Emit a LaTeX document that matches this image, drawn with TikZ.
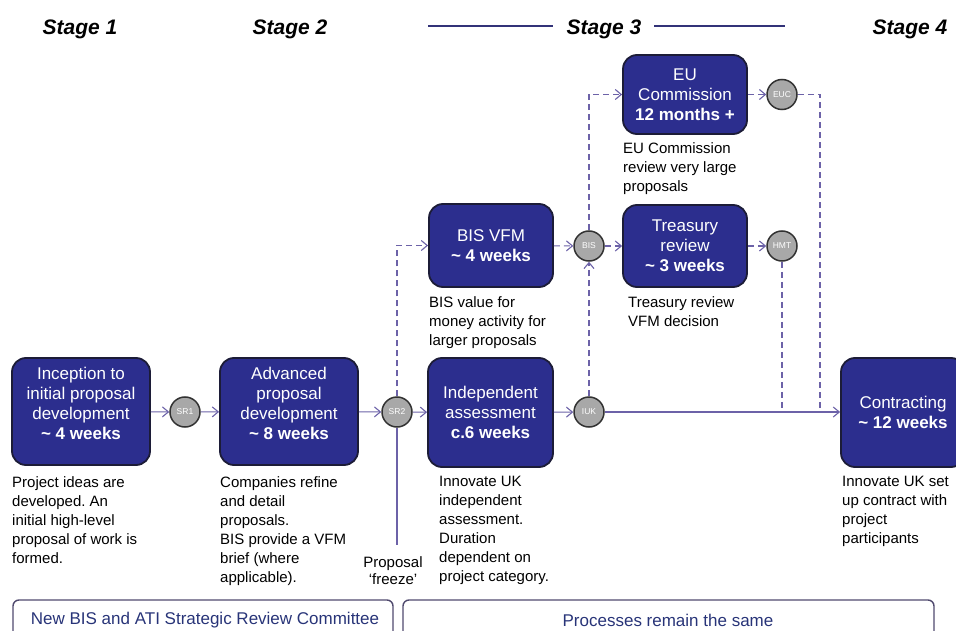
\documentclass[tikz,border=0pt]{standalone}
\usepackage{fontspec}
\setmainfont{Liberation Sans}
\usetikzlibrary{arrows.meta,calc}
\definecolor{boxfill}{RGB}{44,46,142}
\definecolor{boxborder}{RGB}{28,28,55}
\definecolor{gatefill}{RGB}{168,168,168}
\definecolor{gateborder}{RGB}{50,50,50}
\definecolor{flowcol}{RGB}{108,98,168}
\definecolor{stagecol}{RGB}{50,50,120}
\definecolor{bottext}{RGB}{40,52,120}
\definecolor{botborder}{RGB}{80,74,110}
\begin{document}
\frenchspacing
\begin{tikzpicture}[x=1pt,y=-1pt,
  every node/.style={font=\fontsize{15}{19}\selectfont},
  procbox/.style={draw=boxborder, line width=1.8pt, fill=boxfill, rounded corners=14pt,
    text=white, align=center, font=\fontsize{17}{20}\selectfont, inner sep=0pt},
  gate/.style={circle, draw=gateborder, line width=1.5pt, fill=gatefill, minimum size=30pt,
    inner sep=0pt, text=white, font=\fontsize{8.5}{9}\selectfont},
  flow/.style={draw=flowcol, line width=1.1pt, -{Straight Barb[length=6pt,width=10pt]}},
  dflow/.style={flow, dash pattern=on 6pt off 4pt},
  dline/.style={draw=flowcol, line width=1.1pt, dash pattern=on 6pt off 4pt},
  desc/.style={anchor=north west, align=left, inner sep=0pt},
  stagelbl/.style={font=\fontsize{21}{24}\selectfont\bfseries\itshape},
  stageline/.style={draw=stagecol, line width=1.2pt},
  botbox/.style={draw=botborder, line width=1.4pt, rounded corners=6pt, inner sep=0pt},
  botlbl/.style={text=bottext, font=\fontsize{17}{20}\selectfont},
]
\useasboundingbox (0,0) rectangle (956,631);

% stage headers
\node[stagelbl] (s1) at (80,29) {Stage 1};
\node[stagelbl] (s2) at (290,29) {Stage 2};
\node[stagelbl] (s3) at (604,29) {Stage 3};
\node[stagelbl] (s4) at (910,29) {Stage 4};
\coordinate (s3a) at (428,26);
\coordinate (s3b) at (553,26);
\coordinate (s3c) at (654,26);
\coordinate (s3d) at (785,26);
\draw[stageline] (s3a) -- (s3b);
\draw[stageline] (s3c) -- (s3d);

% process boxes
\node[procbox, minimum width=138pt, minimum height=107pt] (inc) at (81,411.5) {};
\node[text=white, align=center, font=\fontsize{17}{20}\selectfont] (inct) at (81,403)
  {Inception to\\initial proposal\\development\\\textbf{\char`\~\ 4 weeks}};
\node[procbox, minimum width=138pt, minimum height=107pt] (adv) at (289,411.5) {};
\node[text=white, align=center, font=\fontsize{17}{20}\selectfont] (advt) at (289,403)
  {Advanced\\proposal\\development\\\textbf{\char`\~\ 8 weeks}};
\node[procbox, minimum width=125pt, minimum height=109pt] (ind) at (490.5,412.5)
  {Independent\\assessment\\\textbf{c.6 weeks}};
\node[procbox, minimum width=124pt, minimum height=83pt] (vfm) at (491,245.5)
  {BIS VFM\\\textbf{\char`\~\ 4 weeks}};
\node[procbox, minimum width=124pt, minimum height=82pt] (hmtb) at (685,246)
  {Treasury\\review\\\textbf{\char`\~\ 3 weeks}};
\node[procbox, minimum width=124pt, minimum height=79pt] (eu) at (685,94.5)
  {EU\\Commission\\\textbf{12 months +}};
\node[procbox, minimum width=124pt, minimum height=109pt] (con) at (903,412.5)
  {Contracting\\\textbf{\char`\~\ 12 weeks}};

% gates
\node[gate] (sr1) at (185,412) {SR1};
\node[gate] (sr2) at (397,412) {SR2};
\node[gate] (iuk) at (589,412) {IUK};
\node[gate] (bis) at (589,246) {BIS};
\node[gate] (hmt) at (782,246) {HMT};
\node[gate] (euc) at (782,94.5) {EUC};

% descriptions
\node[desc] (d1) at (12,476) {Project ideas are\\developed. An\\initial high-level\\proposal of work is\\formed.};
\node[desc] (d2) at (220,476) {Companies refine\\and detail\\proposals.\\BIS provide a VFM\\brief (where\\applicable).};
\node[desc] (d3) at (439,476) {Innovate UK\\independent\\assessment.\\Duration\\dependent on\\project category.};
\node[desc] (d4) at (429,296) {BIS value for\\money activity for\\larger proposals};
\node[desc] (d5) at (623,142) {EU Commission\\review very large\\proposals};
\node[desc] (d6) at (628,296) {Treasury review\\VFM decision};
\node[desc] (d7) at (842,476) {Innovate UK set\\up contract with\\project\\participants};
\node[align=center, inner sep=0pt, font=\fontsize{15}{17}\selectfont] (frz) at (393,571) {Proposal\\`freeze'};
\coordinate (frztop) at (397,545);

% main flow
\draw[flow] (inc) -- (sr1);
\draw[flow] (sr1) -- (adv);
\draw[flow] (adv) -- (sr2);
\draw[flow] (sr2) -- (ind);
\draw[flow] (ind) -- (iuk);
\draw[flow] (iuk) -- (iuk -| con.west);
\draw[draw=flowcol, line width=1.1pt] (sr2.south) -- (frztop);

% dashed flows
\draw[dflow] (sr2.north) |- (vfm.west);
\draw[dflow] (vfm) -- (bis);
\draw[dflow] (bis) -- (hmtb);
\draw[dflow] (bis.north) |- (eu.west);
\draw[dflow] (iuk.north) -- (bis.south);
\draw[dflow] (hmtb) -- (hmt);
\draw[dflow] (eu) -- (euc);
\coordinate (j1) at (hmt |- iuk);
\coordinate (j2) at (820,412);
\draw[dline] (hmt.south) -- (j1) -- (j2);
\draw[dline] (euc.east) -| (j2);

% bottom boxes
\node[botbox, minimum width=380pt, minimum height=50pt] (rev) at (203,625) {};
\node[botlbl] (revt) at (205,620) {New BIS and ATI Strategic Review Committee};
\node[botbox, minimum width=531pt, minimum height=50pt] (same) at (668.5,625) {};
\node[botlbl] (samet) at (668,620) {Processes remain the same};
\end{tikzpicture}
\end{document}
